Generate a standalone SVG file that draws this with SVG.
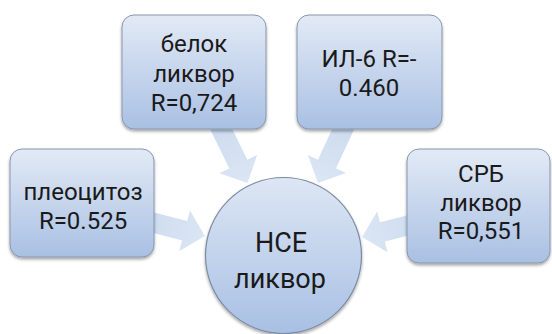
<svg xmlns="http://www.w3.org/2000/svg" width="552" height="334" viewBox="0 0 552 334">
  <defs>
    <linearGradient id="boxFill" x1="0" y1="0" x2="0" y2="1">
      <stop offset="0" stop-color="#e2eaf6"/>
      <stop offset="1" stop-color="#a9c0e3"/>
    </linearGradient>
    <linearGradient id="hubFill" x1="0" y1="0" x2="0" y2="1">
      <stop offset="0" stop-color="#dde6f4"/>
      <stop offset="1" stop-color="#a8c0e4"/>
    </linearGradient>
    <linearGradient id="arrowFill" x1="0" y1="0" x2="1" y2="0">
      <stop offset="0" stop-color="#cad9ee"/>
      <stop offset="1" stop-color="#dbe6f4"/>
    </linearGradient>
    <filter id="shadow" x="-10%" y="-10%" width="120%" height="125%">
      <feDropShadow dx="0" dy="2" stdDeviation="1.6" flood-color="#000" flood-opacity="0.35"/>
    </filter>
    <!-- block arrow pointing along +x, tip at the origin -->
    <polygon id="blockArrow" points="-80,-10 -21,-10 -21,-21 0,0 -21,21 -21,10 -80,10"/>
  </defs>
  <style>
    .box { fill: url(#boxFill); stroke: #8797ad; stroke-width: 1; filter: url(#shadow); }
    .hub { fill: url(#hubFill); stroke: #7d8ca3; stroke-width: 1.2; filter: url(#shadow); }
    .arrow { fill: url(#arrowFill); }
    text { font-family: Roboto, "Noto Sans", sans-serif; fill: #1a1a1a; text-anchor: middle; }
    .lbl { font-size: 24px; }
    .hubLbl { font-size: 27px; }
  </style>

  <!-- connectors: block arrows converging on the centre -->
  <g id="connectors">
    <use href="#blockArrow" class="arrow" transform="translate(205,236) rotate(14.6)"/>
    <use href="#blockArrow" class="arrow" transform="translate(247.5,183) rotate(64)"/>
    <use href="#blockArrow" class="arrow" transform="translate(318,183) rotate(115.1)"/>
    <use href="#blockArrow" class="arrow" transform="translate(362,237) rotate(165.8)"/>
  </g>

  <g id="node-pleocytosis">
    <rect class="box" x="10" y="149" width="144" height="108" rx="12"/>
    <text class="lbl" x="83" y="200">плеоцитоз</text>
    <text class="lbl" x="83" y="229">R=0.525</text>
  </g>

  <g id="node-protein">
    <rect class="box" x="122" y="15" width="144" height="114" rx="12"/>
    <text class="lbl" x="194" y="52">белок</text>
    <text class="lbl" x="194" y="82">ликвор</text>
    <text class="lbl" x="194" y="111">R=0,724</text>
  </g>

  <g id="node-il6">
    <rect class="box" x="297" y="15" width="145" height="114" rx="12"/>
    <text class="lbl" x="369" y="67">ИЛ-6 R=-</text>
    <text class="lbl" x="369" y="96">0.460</text>
  </g>

  <g id="node-crp">
    <rect class="box" x="407" y="149" width="143" height="114" rx="12"/>
    <text class="lbl" x="481" y="182">СРБ</text>
    <text class="lbl" x="481" y="210.5">ликвор</text>
    <text class="lbl" x="481" y="239">R=0,551</text>
  </g>

  <g id="node-nse">
    <circle class="hub" cx="283.5" cy="255.5" r="78"/>
    <text class="hubLbl" x="281" y="252">НСЕ</text>
    <text class="hubLbl" x="280" y="288">ликвор</text>
  </g>
</svg>
